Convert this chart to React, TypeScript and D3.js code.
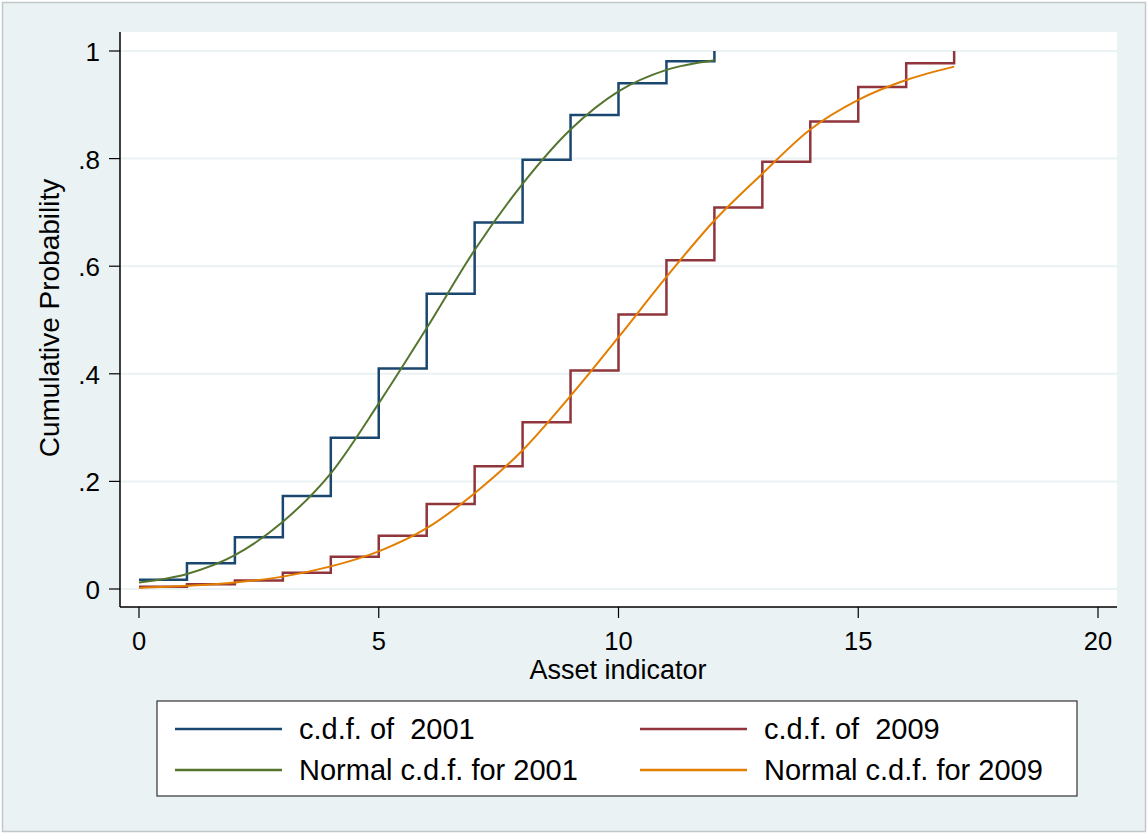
import React from "react";
import * as d3 from "d3";

// ECDF step values at x = 0..N
const cdf2001X = [0, 1, 2, 3, 4, 5, 6, 7, 8, 9, 10, 11, 12];
const cdf2001Y = [0.017, 0.048, 0.096, 0.173, 0.281, 0.410, 0.549, 0.681, 0.798, 0.881, 0.940, 0.981, 1.0];
const cdf2009X = [0, 1, 2, 3, 4, 5, 6, 7, 8, 9, 10, 11, 12, 13, 14, 15, 16, 17];
const cdf2009Y = [0.004, 0.009, 0.016, 0.03, 0.060, 0.099, 0.158, 0.228, 0.310, 0.406, 0.510, 0.611, 0.709, 0.794, 0.869, 0.933, 0.977, 1.0];
// Normal c.d.f. read at integer x
const norm2001Y = [0.012, 0.028, 0.063, 0.125, 0.215, 0.345, 0.485, 0.630, 0.753, 0.854, 0.925, 0.965, 0.983];
const norm2009Y = [0.002, 0.006, 0.012, 0.023, 0.042, 0.070, 0.113, 0.178, 0.258, 0.359, 0.468, 0.580, 0.685, 0.772, 0.854, 0.909, 0.946, 0.971];

const xTicks = [0, 5, 10, 15, 20];
const yTicks = [0, 0.2, 0.4, 0.6, 0.8, 1];
const yTickLabels = ["0", ".2", ".4", ".6", ".8", "1"];

const legendItems = [
  { label: "c.d.f. of  2001", color: "#1a476f" },
  { label: "c.d.f. of  2009", color: "#90353b" },
  { label: "Normal c.d.f. for 2001", color: "#55752f" },
  { label: "Normal c.d.f. for 2009", color: "#e37e00" },
];

const W = 1148, H = 834;
const FONT = "'Liberation Sans', Arial, sans-serif";

export default function App() {
  const x = d3.scaleLinear().domain([0, 20]).range([139, 1098]);
  const y = d3.scaleLinear().domain([0, 1]).range([589, 51]);
  const plot = { l: 120, t: 32, r: 1117, b: 607 };

  const smooth = d3.line<[number, number]>().x(d => x(d[0])).y(d => y(d[1])).curve(d3.curveMonotoneX);

  const stepPath = (xs: number[], ys: number[]) => {
    const n = xs.length;
    const pts: [number, number][] = xs.slice(0, n - 1).map((v, i) => [v, ys[i]]);
    pts.push([xs[n - 1], ys[n - 2]]);
    return d3.line<[number, number]>().x(d => x(d[0])).y(d => y(d[1])).curve(d3.curveStepAfter)(pts)! +
      `L${x(xs[n - 1])},${y(ys[n - 1])}`;
  };

  const g2001: [number, number][] = cdf2001X.map((v, i) => [v, norm2001Y[i]]);
  const g2009: [number, number][] = cdf2009X.map((v, i) => [v, norm2009Y[i]]);

  const legend = { l: 157, t: 701, r: 1077, b: 796 };
  const rowsY = [729, 770];
  const colsX = [175, 640];

  return (
    <svg width={W} height={H} style={{ position: "absolute", left: 0, top: 0 }} fontFamily={FONT}>
      <rect x={0} y={0} width={W} height={H} fill="#ffffff" />
      <rect x={2.5} y={2.5} width={W - 5} height={H - 5} fill="#eaf2f3" stroke="#c3c7c9" strokeWidth={1.5} />
      <rect x={plot.l} y={plot.t} width={plot.r - plot.l} height={plot.b - plot.t} fill="#ffffff" />
      {yTicks.map((t, i) => (
        <line key={"g" + i} x1={plot.l} x2={plot.r} y1={y(t)} y2={y(t)} stroke="#eaf2f3" strokeWidth={2} />
      ))}
      {/* axes */}
      <line x1={plot.l} x2={plot.l} y1={plot.t} y2={plot.b} stroke="#000" strokeWidth={1.5} />
      <line x1={plot.l} x2={plot.r} y1={plot.b} y2={plot.b} stroke="#000" strokeWidth={1.5} />
      {yTicks.map((t, i) => (
        <g key={"yt" + i}>
          <line x1={plot.l - 11} x2={plot.l} y1={y(t)} y2={y(t)} stroke="#000" strokeWidth={1.2} />
          <text x={100} y={y(t) + 10} textAnchor="end" fontSize={26} fill="#000">{yTickLabels[i]}</text>
        </g>
      ))}
      {xTicks.map((t, i) => (
        <g key={"xt" + i}>
          <line x1={x(t)} x2={x(t)} y1={plot.b} y2={plot.b + 11} stroke="#000" strokeWidth={1.2} />
          <text x={x(t)} y={650} textAnchor="middle" fontSize={25.5} fill="#000">{t}</text>
        </g>
      ))}
      <text x={618} y={679} textAnchor="middle" fontSize={27} fill="#000">Asset indicator</text>
      <text transform={`translate(59,318) rotate(-90)`} textAnchor="middle" fontSize={28} fill="#000">Cumulative Probability</text>

      {/* series */}
      <path d={stepPath(cdf2001X, cdf2001Y)} fill="none" stroke="#1a476f" strokeWidth={2.5} />
      <path d={stepPath(cdf2009X, cdf2009Y)} fill="none" stroke="#90353b" strokeWidth={2.5} />
      <path d={smooth(g2001)!} fill="none" stroke="#55752f" strokeWidth={2} />
      <path d={smooth(g2009)!} fill="none" stroke="#e37e00" strokeWidth={2} />

      {/* legend */}
      <rect x={legend.l} y={legend.t} width={legend.r - legend.l} height={legend.b - legend.t} fill="#ffffff" stroke="#333" strokeWidth={1.2} />
      {legendItems.map((it, i) => {
        const cx = colsX[i % 2];
        const cy = rowsY[Math.floor(i / 2)];
        return (
          <g key={"lg" + i}>
            <line x1={cx} x2={cx + 107} y1={cy} y2={cy} stroke={it.color} strokeWidth={2.5} />
            <text x={cx + 124} y={cy + 9.5} fontSize={29} fill="#000" style={{ whiteSpace: "pre" }}>{it.label}</text>
          </g>
        );
      })}
    </svg>
  );
}
